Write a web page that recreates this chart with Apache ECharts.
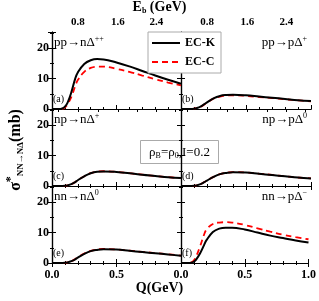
<!DOCTYPE html>
<html><head><meta charset="utf-8">
<script src="https://cdn.jsdelivr.net/npm/echarts@6/dist/echarts.min.js"></script>
<style>html,body{margin:0;padding:0;background:#fff}#c{width:319px;height:301px}</style>
</head><body><div id="c"></div>
<script>
// Q (GeV) sample points
const qValues = [0,0.05,0.08,0.1,0.12,0.15,0.18,0.2,0.25,0.3,0.35,0.4,0.5,0.6,0.7,0.8,0.9,1.0];
// EC-K (black) and EC-C (red) cross sections (mb) per panel
const aK = [0,0,0.2,0.8,2,5.5,10,12,14.8,16,16.4,16.3,15.3,14,12.5,11,9.6,8.3];
const aC = [0,0,0.1,0.5,1.5,4,7.5,9.5,12.2,13.5,13.9,13.9,13.2,12.2,11,9.8,8.7,7.8];
const bK = [0,0,0,0.1,0.3,0.8,1.6,2.2,3.5,4.3,4.6,4.7,4.5,4.1,3.7,3.3,2.9,2.6];
const bC = [0,0,0,0.1,0.3,0.7,1.5,2.1,3.4,4.1,4.4,4.5,4.3,3.95,3.6,3.2,2.85,2.5];
const cK = [0,0,0,0.05,0.2,0.6,1.3,1.9,3.2,4.2,4.7,4.8,4.6,4.2,3.7,3.3,2.9,2.6];
const cC = [0,0,0,0.05,0.2,0.6,1.3,1.9,3.2,4.2,4.7,4.85,4.65,4.2,3.75,3.3,2.9,2.6];
const dK = [0,0,0,0.05,0.2,0.6,1.3,1.8,3.0,3.9,4.3,4.5,4.4,4.0,3.6,3.2,2.8,2.5];
const dC = [0,0,0,0.05,0.2,0.6,1.3,1.8,3.0,3.9,4.35,4.55,4.45,4.05,3.65,3.2,2.8,2.5];
const eK = [0,0,0,0.05,0.2,0.6,1.2,1.8,3.0,3.9,4.3,4.5,4.4,4.0,3.6,3.2,2.8,2.4];
const eC = [0,0,0,0.05,0.2,0.6,1.3,1.9,3.1,4.0,4.45,4.6,4.45,4.05,3.65,3.25,2.85,2.45];
const fK = [0,0,0.1,0.4,1.2,3.2,5.8,7.5,10.2,11.3,11.6,11.6,11.0,10.0,9.0,8.2,7.4,6.7];
const fC = [0,0,0.2,0.8,2.3,5.5,9.2,11,12.8,13.3,13.4,13.3,12.5,11.4,10.3,9.3,8.5,7.8];
const panelK = [aK,bK,cK,dK,eK,fK];
const panelC = [aC,bC,cC,dC,eC,fC];
// panel reaction labels
const reactionBase = ['pp→nΔ','pp→pΔ','np→nΔ','np→pΔ','nn→nΔ','nn→pΔ'];
const reactionSup = ['++','+','+','0','0','−'];
const panelTags = ['(a)','(b)','(c)','(d)','(e)','(f)'];
// top axis: beam energy labels and their Q positions
const ebLabels = ['0.8','1.6','2.4'];
const ebLabelQ = [0.2,0.51,0.81];
const ebMinorQ = [0.045,0.2,0.355,0.51,0.66,0.81,0.955];
const yTicks = [0,10,20];
const seriesNames = ['EC-K','EC-C'];

const SERIF = '"Liberation Serif","DejaVu Serif",serif';
const colLeft = [52,181], colW = [129,130];
const rowTop = [32,109,186], rowH = 77;

const grids=[], xAxes=[], yAxes=[], series=[], graphics=[];
const axLine = {show:true,lineStyle:{color:'#000',width:1.2}};
for (let i=0;i<6;i++){
  const r=Math.floor(i/2), c=i%2;
  grids.push({left:colLeft[c],top:rowTop[r],width:colW[c],height:rowH});
  const bottomRow = r===2;
  xAxes.push({type:'value',gridIndex:i,position:'bottom',min:0,max:1,interval:0.5,
    axisLine:axLine,axisTick:{show:true,inside:true,length:4,lineStyle:{color:'#000'}},
    minorTick:{show:true,splitNumber:5,length:2,lineStyle:{color:'#000'}},
    splitLine:{show:false},
    axisLabel:{show:bottomRow,fontFamily:SERIF,fontWeight:'bold',fontSize:12,color:'#000',margin:6,
      formatter:v=> (c===0 && v>=0.99)?'':v.toFixed(1)}});
  if (r===0){
    xAxes.push({type:'value',gridIndex:i,position:'top',min:0,max:1,
      axisLine:axLine,
      axisTick:{show:true,inside:true,length:3,customValues:ebMinorQ,lineStyle:{color:'#000'}},
      splitLine:{show:false},
      axisLabel:{show:true,customValues:ebLabelQ,fontFamily:SERIF,fontWeight:'bold',fontSize:11,color:'#000',margin:4,
        formatter:v=>{let k=0,best=9;ebLabelQ.forEach((q,j)=>{if(Math.abs(q-v)<best){best=Math.abs(q-v);k=j;}});return ebLabels[k];}}});
  } else {
    xAxes.push({type:'value',gridIndex:i,position:'top',min:0,max:1,interval:0.5,
      axisLine:axLine,axisTick:{show:true,inside:true,length:4,lineStyle:{color:'#000'}},
      minorTick:{show:true,splitNumber:5,length:2,lineStyle:{color:'#000'}},
      splitLine:{show:false},axisLabel:{show:false}});
  }
  yAxes.push({type:'value',gridIndex:i,position:'left',min:0,max:25.3,interval:10,
    axisLine:axLine,axisTick:{show:true,inside:true,length:4,lineStyle:{color:'#000'}},
    minorTick:{show:true,splitNumber:2,length:2,lineStyle:{color:'#000'}},
    splitLine:{show:false},
    axisLabel:{show:c===0,fontFamily:SERIF,fontWeight:'bold',fontSize:12,color:'#000',margin:3,
      formatter:v=> yTicks.includes(v)?String(v):''}});
  yAxes.push({type:'value',gridIndex:i,position:'right',min:0,max:25.3,interval:10,
    axisLine:axLine,axisTick:{show:true,inside:true,length:4,lineStyle:{color:'#000'}},
    minorTick:{show:true,splitNumber:2,length:2,lineStyle:{color:'#000'}},
    splitLine:{show:false},axisLabel:{show:false}});
  series.push({name:seriesNames[1],type:'line',xAxisIndex:2*i,yAxisIndex:2*i,smooth:0.4,symbol:'none',
    data:qValues.map((q,j)=>[q,panelC[i][j]]),
    lineStyle:{color:'#ff0000',width:1.8,type:[6,4]},itemStyle:{color:'#ff0000'},z:3});
  series.push({name:seriesNames[0],type:'line',xAxisIndex:2*i,yAxisIndex:2*i,smooth:0.4,symbol:'none',
    data:qValues.map((q,j)=>[q,panelK[i][j]]),
    lineStyle:{color:'#000',width:2},itemStyle:{color:'#000'},z:4});
  // reaction label
  const rich={b:{fontFamily:SERIF,fontSize:13,color:'#000'},s:{fontFamily:SERIF,fontSize:8,color:'#000',verticalAlign:'top',padding:[0,0,8,0]}};
  if (c===0){
    graphics.push({type:'text',left:colLeft[c]+2,top:rowTop[r]+3,style:{text:'{b|'+reactionBase[i]+'}{s|'+reactionSup[i]+'}',rich:rich},z:10});
  } else {
    graphics.push({type:'text',right:319-(colLeft[c]+colW[c])+4,top:rowTop[r]+3,style:{text:'{b|'+reactionBase[i]+'}{s|'+reactionSup[i]+'}',rich:rich},z:10});
  }
  graphics.push({type:'text',left:colLeft[c]+1,top:rowTop[r]+rowH-15,style:{text:panelTags[i],fontFamily:SERIF,fontSize:10,fill:'#000'},z:10});
}
// annotation box
graphics.push({type:'group',left:140,top:140,z:10,children:[
  {type:'rect',shape:{x:0,y:0,width:78,height:23},style:{fill:'#fff',stroke:'#aaa',lineWidth:1}},
  {type:'text',x:39,y:12,style:{text:'{a|ρ}{s|B}{a|=ρ}{s|0}{a|,I=0.2}',align:'center',verticalAlign:'middle',
    rich:{a:{fontFamily:SERIF,fontSize:13,color:'#000'},s:{fontFamily:SERIF,fontSize:8,color:'#000',padding:[6,0,0,0]}}}}
]});
// axis titles
graphics.push({type:'text',left:'center',top:0,style:{text:'{a|E}{s|b}{a| (GeV)}',
  rich:{a:{fontFamily:SERIF,fontSize:14,fontWeight:'bold',color:'#000'},s:{fontFamily:SERIF,fontSize:8,fontWeight:'bold',color:'#000',padding:[7,0,0,0]}}},z:10});
graphics.push({type:'text',left:'center',top:281,style:{text:'Q(GeV)',fontFamily:SERIF,fontSize:14,fontWeight:'bold',fill:'#000'},z:10});
graphics.push({type:'text',x:16,y:150,rotation:Math.PI/2,style:{text:'{a|σ}{p|*}{s|NN→NΔ}{a|(mb)}',align:'center',verticalAlign:'middle',
  rich:{a:{fontFamily:SERIF,fontSize:16,fontWeight:'bold',color:'#000'},p:{fontFamily:SERIF,fontSize:12,fontWeight:'bold',color:'#000',padding:[0,0,10,0]},s:{fontFamily:SERIF,fontSize:9,fontWeight:'bold',color:'#000',padding:[10,0,0,0]}}},z:10});

const chart = echarts.init(document.getElementById('c'),null,{renderer:'canvas'});
chart.setOption({
  animation:false,
  grid:grids,xAxis:xAxes,yAxis:yAxes,series:series,graphic:graphics,
  legend:{data:seriesNames,left:148,top:32,orient:'vertical',itemWidth:28,itemHeight:10,itemGap:7,
    padding:[5,6,5,3],borderColor:'#aaa',borderWidth:1,backgroundColor:'#fff',
    itemStyle:{opacity:0,borderWidth:0},
    textStyle:{fontFamily:SERIF,fontSize:12,fontWeight:'bold',color:'#000'},z:20}
});
</script></body></html>
